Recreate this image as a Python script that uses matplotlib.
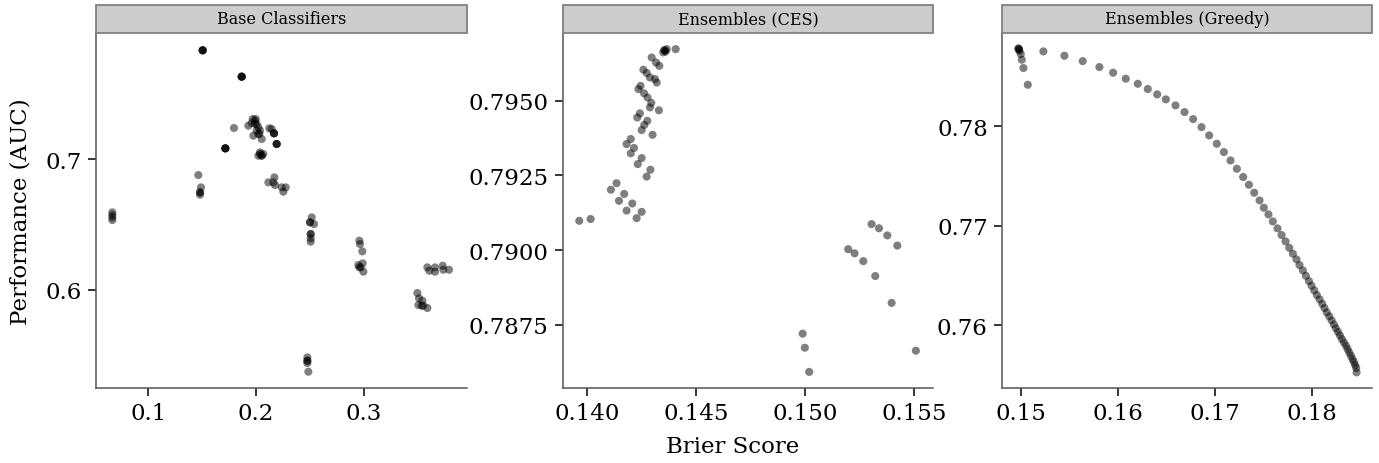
import matplotlib
matplotlib.use("Agg")
import matplotlib.pyplot as plt
from matplotlib.patches import Rectangle

plt.rcParams['font.family'] = ['DejaVu Serif']

# ---------------- data ----------------
panel_titles = ["Base Classifiers", "Ensembles (CES)", "Ensembles (Greedy)"]
x_label = "Brier Score"
y_label = "Performance (AUC)"

base_brier = [0.06665, 0.06665, 0.06665, 0.06665,
              0.15041, 0.15041, 0.15041, 0.15041,
              0.18657, 0.18657, 0.18657, 0.18657,
              0.17946,
              0.17143, 0.17143, 0.17143, 0.17143,
              0.19275, 0.19677, 0.19893, 0.20048, 0.19585, 0.20202, 0.20357,
              0.20295, 0.19739, 0.20512, 0.19955, 0.19893, 0.20048, 0.20202,
              0.21439, 0.21222, 0.21655, 0.21655, 0.21655, 0.21902, 0.21902, 0.21902,
              0.2051, 0.2020, 0.2066, 0.2036, 0.2051, 0.2036,
              0.14639, 0.14886, 0.14794, 0.14794, 0.14794,
              0.2113, 0.21686, 0.21593, 0.21748, 0.22366, 0.22737, 0.2252,
              0.25148, 0.24993, 0.24993, 0.25364, 0.25055, 0.25055, 0.25055, 0.25055,
              0.24746, 0.24746, 0.24746, 0.24746, 0.24838,
              0.29567, 0.29629, 0.29845, 0.29474, 0.29691, 0.29877, 0.29938, 0.29567,
              0.34945, 0.351, 0.35408, 0.35038, 0.35501, 0.35872, 0.3535,
              0.3587, 0.36055, 0.36583, 0.36583, 0.37297, 0.37353, 0.37882]
base_auc = [0.65919, 0.65715, 0.65537, 0.65333,
            0.78314, 0.78314, 0.78314, 0.78314,
            0.763, 0.763, 0.763, 0.763,
            0.72372,
            0.70816, 0.70816, 0.70816, 0.70816,
            0.7255, 0.7306, 0.72933, 0.72678, 0.72754, 0.72423, 0.72168,
            0.71913, 0.71785, 0.7153, 0.7306, 0.72678, 0.72168, 0.71913,
            0.72295, 0.7235, 0.71964, 0.71964, 0.71964, 0.71148, 0.71148, 0.71148,
            0.70255, 0.70255, 0.70383, 0.7051, 0.70255, 0.70383,
            0.68776, 0.67832, 0.6745, 0.67271, 0.6745,
            0.68215, 0.68598, 0.68215, 0.6801, 0.67832, 0.67832, 0.675,
            0.65537, 0.65155, 0.65155, 0.65027, 0.64262, 0.6393, 0.63675, 0.64262,
            0.54825, 0.5457, 0.54392, 0.5457, 0.53728,
            0.63751, 0.63497, 0.62936, 0.6189, 0.61712, 0.62018, 0.6138, 0.61712,
            0.59748, 0.5934, 0.59161, 0.58829, 0.58778, 0.586, 0.58776,
            0.61714, 0.61454, 0.61714, 0.61377, 0.61836, 0.6153, 0.6153]

ces_brier = [0.13966, 0.14018,
             0.14137, 0.14111, 0.14172, 0.14148, 0.14209, 0.14183, 0.14252, 0.14229,
             0.14202, 0.14183, 0.14217, 0.14202, 0.14252, 0.14234, 0.14292, 0.14275,
             0.14244, 0.14232, 0.14278, 0.14264, 0.14252, 0.14302,
             0.14247, 0.14237, 0.14263, 0.14279, 0.14296, 0.1429, 0.14331,
             0.1426, 0.14275, 0.1429, 0.14313, 0.14321,
             0.14298, 0.14318, 0.14333,
             0.14359, 0.14351, 0.14367, 0.14362, 0.14355, 0.14408,
             0.1499, 0.15, 0.1502, 0.15199, 0.15228, 0.15268, 0.15306, 0.1534,
             0.15378, 0.15424, 0.15323, 0.15398, 0.15509]
ces_auc = [0.79098, 0.79104,
           0.79224, 0.79202, 0.79188, 0.79165, 0.79156, 0.79132, 0.79128, 0.79107,
           0.79372, 0.79355, 0.79342, 0.79324, 0.79308, 0.79288, 0.79269, 0.79246,
           0.79458, 0.79444, 0.79433, 0.79419, 0.79402, 0.79386,
           0.7955, 0.79539, 0.79525, 0.79511, 0.79493, 0.79478, 0.79468,
           0.79604, 0.79593, 0.79578, 0.79573, 0.79561,
           0.79645, 0.79628, 0.79617,
           0.79668, 0.79662, 0.79673, 0.79665, 0.7967, 0.79673,
           0.7872, 0.78673, 0.78592, 0.79003, 0.78989, 0.78963, 0.79087, 0.79073,
           0.79049, 0.79015, 0.78913, 0.78823, 0.78663]

greedy_brier = [0.14972, 0.14983, 0.14997, 0.15007, 0.15024, 0.15069, 0.14975, 0.14978,
                0.1523, 0.15447, 0.15636, 0.15808, 0.15949, 0.1608, 0.16204, 0.16307,
                0.16404, 0.16493, 0.16593, 0.16686, 0.16775, 0.16861, 0.1694, 0.17019,
                0.17092, 0.1716, 0.17226, 0.17291, 0.1735, 0.17405, 0.1746, 0.17504,
                0.17552, 0.17597, 0.17645, 0.17687, 0.17728, 0.17766, 0.17804, 0.17841,
                0.17872, 0.17907, 0.17938, 0.17969, 0.17996, 0.18024, 0.18051, 0.18079,
                0.18106, 0.1813, 0.18154, 0.18179, 0.18203, 0.18227, 0.18247, 0.18268,
                0.18289, 0.18309, 0.1833, 0.18351, 0.18368, 0.18385, 0.18402, 0.18419,
                0.18433, 0.18447, 0.18457, 0.18461]
greedy_auc = [0.78785, 0.78761, 0.78728, 0.78671, 0.78587, 0.78419, 0.7878, 0.78775,
              0.78755, 0.78711, 0.78657, 0.78597, 0.7854, 0.7848, 0.78429, 0.78376,
              0.78322, 0.78272, 0.78211, 0.78144, 0.78073, 0.77993, 0.77909, 0.77825,
              0.77741, 0.77657, 0.77573, 0.7749, 0.77412, 0.77332, 0.77255, 0.77181,
              0.77114, 0.77043, 0.76973, 0.76906, 0.76842, 0.76778, 0.76718, 0.76661,
              0.76604, 0.7655, 0.76496, 0.76443, 0.76396, 0.76349, 0.76302, 0.76258,
              0.76214, 0.76171, 0.76127, 0.76087, 0.76047, 0.76006, 0.75969, 0.75932,
              0.75896, 0.75859, 0.75825, 0.75792, 0.75758, 0.75724, 0.75691, 0.75657,
              0.75627, 0.75597, 0.75567, 0.75523]

xticks = [[0.1, 0.2, 0.3], [0.140, 0.145, 0.150, 0.155], [0.15, 0.16, 0.17, 0.18]]
xtick_labels = [["0.1", "0.2", "0.3"], ["0.140", "0.145", "0.150", "0.155"],
                ["0.15", "0.16", "0.17", "0.18"]]
yticks = [[0.6, 0.7], [0.7875, 0.7900, 0.7925, 0.7950], [0.76, 0.77, 0.78]]
ytick_labels = [["0.6", "0.7"], ["0.7875", "0.7900", "0.7925", "0.7950"],
                ["0.76", "0.77", "0.78"]]

# ---------------- layout ----------------
W, H = 1379, 464
fig = plt.figure(figsize=(W / 100, H / 100), dpi=100)

panel_px = [(96, 466.7), (562.7, 933.3), (1001.7, 1372)]
top_px, bottom_px = 34, 389.3
strip_top = 6
xlims = [(0.0515, 0.3952), (0.1389, 0.15589), (0.1480, 0.1862)]
ylims = [(0.5246, 0.7964), (0.78537, 0.79727), (0.75363, 0.7894)]

series = [(base_brier, base_auc), (ces_brier, ces_auc), (greedy_brier, greedy_auc)]

for i, (l, r) in enumerate(panel_px):
    ax = fig.add_axes([l / W, (H - bottom_px) / H, (r - l) / W, (bottom_px - top_px) / H])
    xs, ys = series[i]
    ax.scatter(xs, ys, s=34, color="black", alpha=0.5, edgecolors="none", zorder=3)
    ax.set_xlim(*xlims[i])
    ax.set_ylim(*ylims[i])
    ax.set_xticks(xticks[i])
    ax.set_xticklabels(xtick_labels[i])
    ax.set_yticks(yticks[i])
    ax.set_yticklabels(ytick_labels[i])
    for side in ("top", "right"):
        ax.spines[side].set_visible(False)
    for side in ("left", "bottom"):
        ax.spines[side].set_color("#555555")
        ax.spines[side].set_linewidth(1.1)
    ax.tick_params(axis="both", length=6, width=1.1, color="black",
                   labelsize=16.5, pad=4, labelcolor="black")
    # facet strip
    strip = Rectangle((l / W, (H - top_px) / H), (r - l) / W, (top_px - strip_top) / H,
                      transform=fig.transFigure, facecolor="#cccccc",
                      edgecolor="#808080", linewidth=1.3, clip_on=False)
    fig.add_artist(strip)
    fig.text((l + r) / 2 / W, (H - (top_px + strip_top) / 2) / H, panel_titles[i],
             ha="center", va="center", fontsize=11.5, color="black")

fig.text(733 / W, (H - 447) / H, x_label, ha="center", va="center", fontsize=16.5)
fig.text(21 / W, (H - 212) / H, y_label, ha="center", va="center", rotation=90,
         fontsize=16.5)

fig.savefig("out.png", dpi=100)
